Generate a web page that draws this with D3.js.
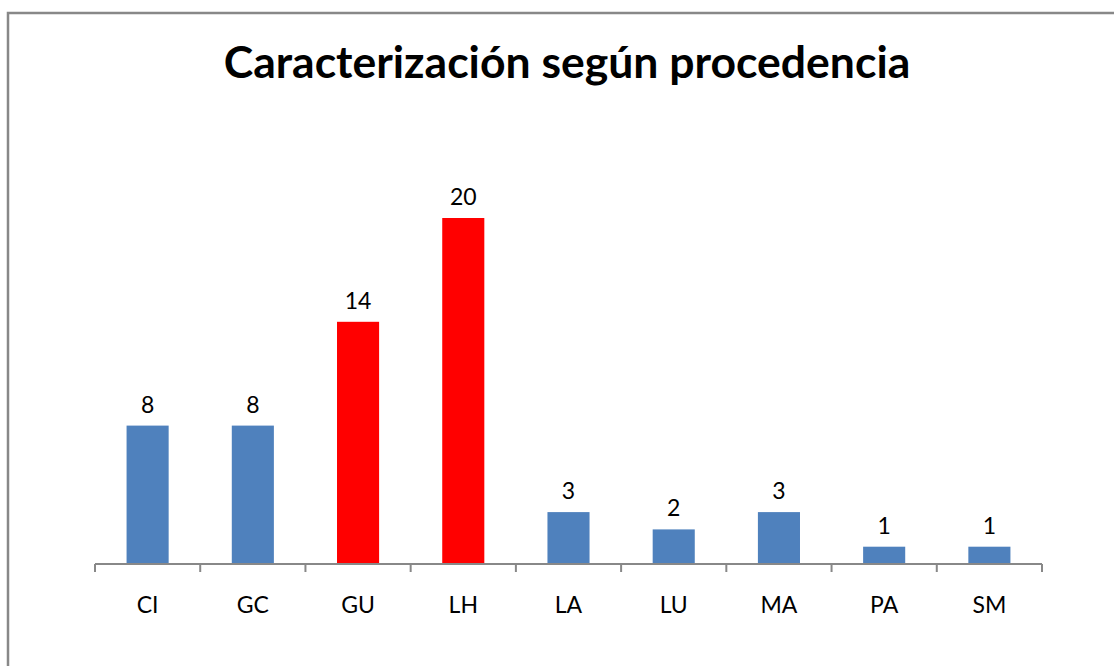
<!DOCTYPE html>
<html>
<head>
<meta charset="utf-8">
<script src="https://cdn.jsdelivr.net/npm/d3@7"></script>
<style>
  body { margin: 0; background: #fff; }
  svg { display: block; }
</style>
</head>
<body>
<svg class="chart"></svg>
<script>
// Data
var categories = ["CI", "GC", "GU", "LH", "LA", "LU", "MA", "PA", "SM"];
var values = [8, 8, 14, 20, 3, 2, 3, 1, 1];
var highlighted = ["GU", "LH"];
var title = "Caracterización según procedencia";

var w = 1114,
    h = 666;

var svg = d3.select(".chart")
    .attr("width", w)
    .attr("height", h);

// chart frame (runs off the right and bottom edges)
svg.append("rect")
    .attr("x", 8)
    .attr("y", 13)
    .attr("width", 1200)
    .attr("height", 700)
    .attr("fill", "#fff")
    .attr("stroke", "#888")
    .attr("stroke-width", 2.5);

svg.append("text")
    .attr("x", 567)
    .attr("y", 78)
    .attr("text-anchor", "middle")
    .attr("font-family", "Lato, sans-serif")
    .attr("font-weight", "bold")
    .attr("font-size", "44.5px")
    .attr("fill", "#000")
    .text(title);

// Scales
var x0 = 95, x1 = 1042, baseY = 564;

var xScale = d3.scaleBand()
    .domain(categories)
    .range([x0, x1])
    .padding(0);

var yScale = d3.scaleLinear()
    .domain([0, 25])
    .range([baseY, baseY - 17.3 * 25]);

var barW = xScale.bandwidth() * 0.4;

// Bars
svg.append("g")
    .selectAll("rect")
    .data(categories)
    .enter().append("rect")
    .attr("x", function(d) { return xScale(d) + (xScale.bandwidth() - barW) / 2; })
    .attr("y", function(d, i) { return yScale(values[i]); })
    .attr("width", barW)
    .attr("height", function(d, i) { return baseY - yScale(values[i]); })
    .attr("fill", function(d) { return highlighted.indexOf(d) >= 0 ? "#ff0000" : "#4f81bd"; });

// Axis
var xAxis = d3.axisBottom(xScale).tickSize(0).tickPadding(0).tickFormat("");
var gx = svg.append("g")
    .attr("transform", "translate(0," + baseY + ")")
    .call(xAxis);
gx.select(".domain").remove();

gx.append("line")
    .attr("x1", x0).attr("x2", x1)
    .attr("y1", 0).attr("y2", 0)
    .attr("stroke", "#888")
    .attr("stroke-width", 2);

// tick marks at category boundaries
var bounds = categories.map(function(d) { return xScale(d); }).concat([x1]);
gx.selectAll(".bound")
    .data(bounds)
    .enter().append("line")
    .attr("class", "bound")
    .attr("x1", function(d) { return d; })
    .attr("x2", function(d) { return d; })
    .attr("y1", 0)
    .attr("y2", 8)
    .attr("stroke", "#888")
    .attr("stroke-width", 2);

// Category labels
svg.append("g")
    .selectAll("text")
    .data(categories)
    .enter().append("text")
    .attr("x", function(d) { return xScale(d) + xScale.bandwidth() / 2; })
    .attr("y", 613)
    .attr("text-anchor", "middle")
    .attr("font-family", "Lato, sans-serif")
    .attr("font-size", "23px")
    .attr("fill", "#000")
    .text(function(d) { return d; });

// Value labels
svg.append("g")
    .selectAll("text")
    .data(categories)
    .enter().append("text")
    .attr("x", function(d) { return xScale(d) + xScale.bandwidth() / 2; })
    .attr("y", function(d, i) { return yScale(values[i]) - 13; })
    .attr("text-anchor", "middle")
    .attr("font-family", "Lato, sans-serif")
    .attr("font-size", "23px")
    .attr("fill", "#000")
    .text(function(d, i) { return values[i]; });
</script>
</body>
</html>
